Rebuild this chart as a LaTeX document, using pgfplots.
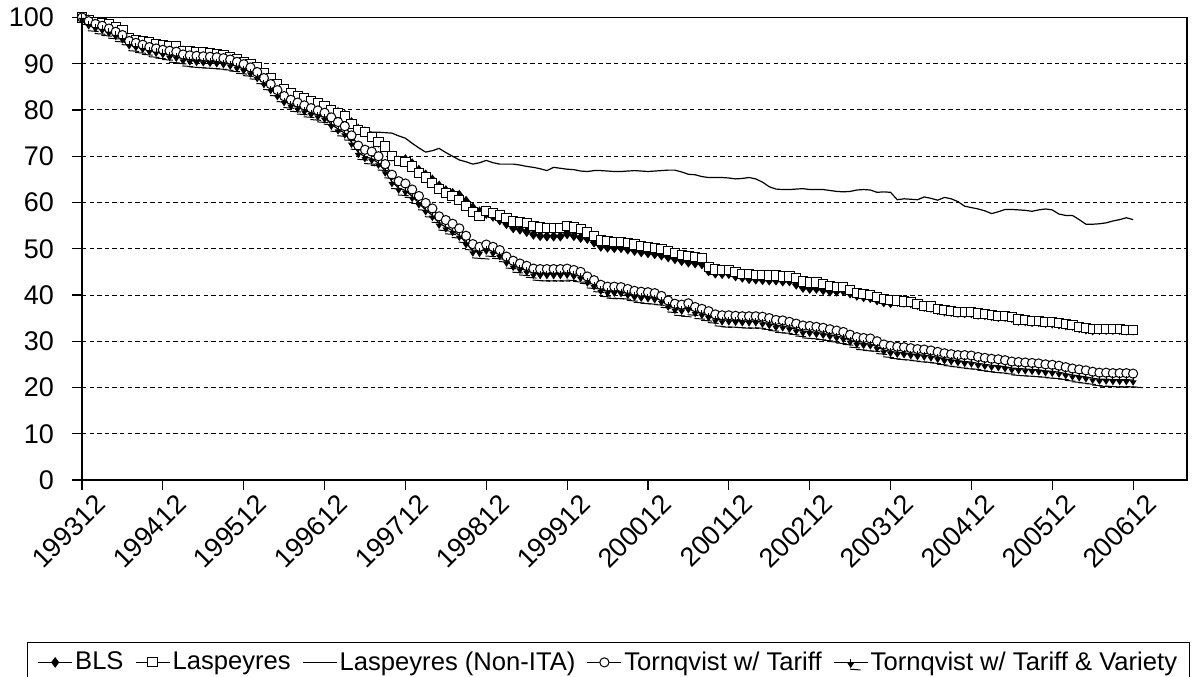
\documentclass[border=0pt]{standalone}
\usepackage{fontspec}
\setmainfont{Liberation Sans}
\usepackage{pgfplots}
\usepackage{pgfplotstable}
\pgfplotsset{compat=1.18}

\pgfdeclareplotmark{varmark}{%
  \pgfpathmoveto{\pgfqpoint{0pt}{1.6pt}}%
  \pgfpathlineto{\pgfqpoint{0pt}{-0.6pt}}%
  \pgfusepathqstroke
  \pgfpathmoveto{\pgfqpoint{-1.3pt}{-0.4pt}}%
  \pgfpathlineto{\pgfqpoint{1.3pt}{-0.4pt}}%
  \pgfpathlineto{\pgfqpoint{0pt}{-2.4pt}}%
  \pgfpathclose
  \pgfusepathqfillstroke
  \pgfpathmoveto{\pgfqpoint{-0.4pt}{-3.4pt}}%
  \pgfpathlineto{\pgfqpoint{5pt}{-3.8pt}}%
  \pgfusepathqstroke
}

\pgfplotstableread{
m L B N T V
0 100 100 100 100 100
1 99.5 99.5 99.6 99.2 98.6
2 99.0 99.0 99.1 98.6 98.0
3 98.8 98.8 98.8 98.2 97.6
4 98.5 98.4 98.3 97.6 97.0
5 97.9 97.8 97.6 96.9 96.3
6 97.3 97.2 96.9 96.2 95.6
7 95.5 95.5 95.8 94.9 94.3
8 95.2 95.1 95.3 94.5 93.9
9 94.9 94.8 94.9 94.1 93.5
10 94.6 94.5 94.6 93.6 93.0
11 94.3 94.2 94.3 93.3 92.7
12 94.0 93.9 94.1 93.0 92.4
13 93.9 93.8 93.8 92.8 91.8
14 93.8 93.7 93.5 92.6 91.6
15 92.8 92.8 93.0 92.0 91.0
16 92.7 92.6 92.8 91.8 90.8
17 92.6 92.5 92.6 91.7 90.7
18 92.5 92.4 92.5 91.6 90.6
19 92.4 92.3 92.4 91.5 90.5
20 92.1 92.0 92.2 91.4 90.4
21 91.9 91.8 91.9 91.2 90.2
22 91.4 91.3 91.5 90.9 89.9
23 90.9 90.8 91.0 90.4 89.4
24 90.4 90.3 90.5 89.9 88.9
25 89.9 89.8 90.0 89.2 88.2
26 89.2 89.1 89.3 88.2 87.2
27 88.0 87.9 88.2 86.9 85.9
28 86.9 86.8 87.1 85.6 84.6
29 85.6 85.5 85.9 84.3 83.3
30 84.5 84.4 84.8 83.0 82.0
31 83.6 83.5 83.9 82.2 81.2
32 83.0 82.9 83.2 81.6 80.6
33 82.5 82.4 82.6 81.0 80.0
34 81.9 81.8 82.0 80.4 79.4
35 81.4 81.3 81.5 79.9 78.9
36 80.9 80.8 81.0 79.4 78.4
37 80.0 80.0 80.2 78.4 76.9
38 79.4 79.5 79.3 77.4 75.9
39 78.6 78.9 78.4 76.5 75.0
40 77.0 77.3 77.3 74.5 73.0
41 75.6 75.9 76.2 72.3 70.8
42 75.3 75.3 75.5 71.4 69.9
43 74.2 74.2 75.2 71.0 69.5
44 73.0 73.0 75.2 70.0 68.5
45 72.1 72.1 75.1 68.3 66.8
46 70.0 70.0 75.0 66.0 64.5
47 69.0 69.0 74.4 64.6 63.1
48 68.7 69.3 73.9 64.1 62.6
49 67.8 68.4 72.8 62.8 61.3
50 66.4 67.0 71.8 61.4 59.9
51 65.4 66.0 70.9 59.9 58.4
52 64.3 64.9 71.2 58.7 57.2
53 63.0 63.6 71.7 57.0 55.5
54 62.0 62.6 70.8 56.2 54.7
55 61.4 62.0 70.0 55.4 53.9
56 60.6 61.6 69.2 54.4 52.9
57 59.3 60.3 68.8 52.8 51.3
58 57.9 58.9 68.3 51.0 49.5
59 57.0 58.0 68.6 50.4 49.4
60 58.1 57.6 69.1 50.9 49.9
61 57.8 57.0 68.6 50.4 49.4
62 57.2 56.2 68.3 49.7 48.7
63 56.6 55.4 68.3 48.3 47.3
64 55.9 54.5 68.3 47.4 46.4
65 55.8 54.2 68.1 46.8 45.8
66 55.5 53.7 67.8 46.3 45.3
67 54.9 53.1 67.6 45.7 44.7
68 54.6 52.8 67.3 45.6 44.6
69 54.5 52.7 66.9 45.6 44.6
70 54.5 52.7 67.6 45.6 44.6
71 54.5 52.7 67.4 45.6 44.6
72 55.0 53.2 67.2 45.7 44.7
73 54.6 52.8 67.1 45.4 44.4
74 54.2 52.4 66.8 45.0 44.0
75 53.5 52.2 66.7 44.0 43.0
76 52.7 51.4 66.9 43.2 42.2
77 51.8 50.5 66.9 42.2 41.2
78 51.6 50.3 66.8 41.8 40.8
79 51.5 50.2 66.7 41.8 40.8
80 51.5 50.2 66.7 41.7 40.7
81 51.2 49.9 66.8 41.3 40.3
82 50.9 49.6 66.9 40.9 39.9
83 50.6 49.3 66.8 40.7 39.7
84 50.4 49.1 66.7 40.6 39.6
85 50.2 48.9 66.8 40.4 39.4
86 49.9 48.6 66.9 39.8 38.8
87 49.5 48.2 67.0 38.8 37.8
88 49.1 47.8 67.0 38.1 37.1
89 48.7 47.4 66.6 37.9 36.9
90 48.4 47.1 66.1 38.2 37.2
91 48.2 46.9 66.0 37.4 36.4
92 48.0 46.7 65.6 37.0 36.0
93 46.0 45.2 65.4 36.5 35.5
94 45.5 44.7 65.4 35.8 34.8
95 45.4 44.6 65.4 35.6 34.6
96 45.4 44.6 65.3 35.6 34.6
97 44.9 44.1 65.1 35.5 34.5
98 44.6 43.8 65.2 35.4 34.4
99 44.5 43.5 65.4 35.4 34.4
100 44.4 43.4 65.1 35.4 34.4
101 44.3 43.3 64.4 35.3 34.1
102 44.2 43.2 63.4 35.0 33.8
103 44.2 43.2 62.9 34.6 33.4
104 44.0 43.0 62.8 34.5 33.3
105 44.0 43.0 62.8 34.2 33.0
106 43.6 42.3 62.9 33.8 32.6
107 42.9 41.6 63.0 33.4 32.2
108 42.7 41.4 62.8 33.3 32.1
109 42.7 41.4 62.8 33.1 31.9
110 42.4 41.1 62.8 32.9 31.7
111 41.9 40.8 62.6 32.6 31.4
112 41.8 40.8 62.4 32.3 31.1
113 41.7 40.9 62.3 32.0 30.8
114 41.0 40.4 62.4 31.4 30.2
115 40.5 39.9 62.7 30.9 29.7
116 40.2 39.6 62.8 30.7 29.5
117 40.0 39.4 62.7 30.6 29.4
118 39.5 38.9 62.2 30.0 28.8
119 39.1 38.5 62.3 29.3 28.1
120 38.9 38.3 62.2 29.0 27.8
121 38.8 38.6 60.6 28.8 27.6
122 38.6 38.4 60.8 28.7 27.5
123 38.5 38.3 60.7 28.5 27.3
124 38.1 37.9 60.6 28.3 27.1
125 37.7 37.5 61.2 28.2 27.0
126 37.5 37.3 60.9 28.0 26.8
127 37.0 36.8 60.5 27.7 26.5
128 36.7 36.5 61.1 27.4 26.2
129 36.6 36.4 60.8 27.2 26.0
130 36.4 36.2 60.2 27.0 25.8
131 36.3 36.1 59.2 27.0 25.6
132 36.3 36.1 58.9 26.9 25.5
133 36.0 35.8 58.6 26.6 25.2
134 35.9 35.7 58.2 26.4 25.0
135 35.7 35.5 57.6 26.2 24.8
136 35.5 35.3 58.0 26.1 24.7
137 35.5 35.3 58.5 25.9 24.5
138 35.3 35.1 58.5 25.6 24.2
139 34.7 34.5 58.4 25.5 24.1
140 34.6 34.4 58.3 25.4 24.0
141 34.4 34.2 58.1 25.3 23.9
142 34.4 34.2 58.4 25.2 23.8
143 34.2 34.0 58.6 25.0 23.6
144 34.1 33.9 58.4 24.9 23.5
145 33.9 33.7 57.5 24.7 23.3
146 33.7 33.5 57.2 24.4 23.0
147 33.6 33.4 57.2 24.1 22.7
148 33.1 32.9 56.3 23.9 22.5
149 32.8 32.6 55.3 23.7 22.3
150 32.6 32.4 55.3 23.4 22.0
151 32.6 32.5 55.4 23.2 21.8
152 32.6 32.5 55.6 23.2 21.8
153 32.6 32.5 56.0 23.1 21.7
154 32.6 32.5 56.3 23.1 21.7
155 32.5 32.4 56.7 23.1 21.7
156 32.4 32.4 56.3 23.0 21.6
}\data

\begin{document}
\begin{tikzpicture}
\begin{axis}[
  at={(0,0)}, anchor=south west,
  width=552.5bp, height=231.25bp, scale only axis,
  xmin=0, xmax=164, ymin=0, ymax=100,
  xtick={0,12,...,156},
  xticklabels={199312,199412,199512,199612,199712,199812,199912,200012,200112,200212,200312,200412,200512,200612},
  ytick={0,10,...,100},
  ymajorgrids,
  grid style={black, line width=0.5bp, dash pattern=on 2.2bp off 1.6bp},
  axis line style={black, line width=0.8bp},
  tick align=outside, tick pos=left,
  major tick length=5bp,
  tick style={black, line width=0.6bp},
  /pgf/number format/assume math mode=true,
  ticklabel style={font=\fontsize{13.5bp}{16bp}\selectfont},
  yticklabel style={xshift=-5.5bp},
  xticklabel style={xshift=10bp, yshift=-4bp, rotate=45, anchor=east, inner sep=1bp},
  legend style={at={(-0.0498,-0.3503)}, anchor=north west, draw=black,
    line width=0.6bp, font=\fontsize{12.8bp}{14bp}\selectfont,
    inner xsep=5bp, inner ysep=3bp,
    nodes={inner xsep=1.2bp, inner ysep=1.5bp},
    /tikz/every even column/.append style={column sep=4.5bp}},
  legend columns=-1,
  legend cell align=left,
]
\addplot[black, line width=0.6bp, mark=diamond*, mark size=2.2bp, mark options={solid, fill=black}] table[x=m, y=B] {\data};
\addlegendentry{BLS}
\addplot[black, line width=0.6bp, mark=square*, mark size=2.3bp, mark options={solid, fill=white, line width=0.5bp}] table[x=m, y=L] {\data};
\addlegendentry{Laspeyres}
\addplot[black, line width=0.6bp, mark=none] table[x=m, y=N] {\data};
\addlegendentry{Laspeyres (Non-ITA)}
\addplot[black, line width=0.6bp, mark=*, mark size=2.3bp, mark options={solid, fill=white, line width=0.5bp}] table[x=m, y=T] {\data};
\addlegendentry{Tornqvist w/ Tariff}
\addplot[black, line width=0.6bp, mark=varmark, mark options={solid, fill=black, line width=0.5bp}] table[x=m, y=V] {\data};
\addlegendentry{Tornqvist w/ Tariff \& Variety}
\end{axis}
\pgfresetboundingbox
\path[use as bounding box] (-41bp,-98.5bp) rectangle (556.5bp,240bp);
\end{tikzpicture}
\end{document}
